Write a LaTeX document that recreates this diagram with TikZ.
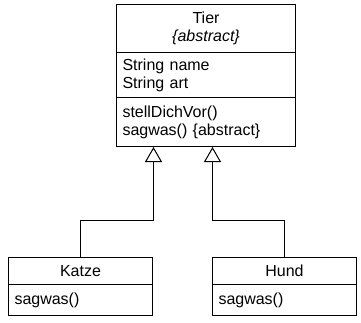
\documentclass[tikz,border=0pt]{standalone}
\usepackage{fontspec}
\setmainfont{Liberation Sans}
\usetikzlibrary{arrows.meta, calc, positioning}

\begin{document}
\begin{tikzpicture}[x=1pt, y=-1pt, line width=1pt,
    fach/.style={draw, rectangle, anchor=north west, inner xsep=6pt, inner ysep=0pt,
      font=\fontsize{16}{18}\selectfont},
    titel/.style={fach, align=center},
    liste/.style={fach, align=left},
    erbt/.style={-{Triangle[open, width=17pt, length=15pt]}}]
  \useasboundingbox (0,0) rectangle (361,322);
  % Oberklasse
  \node[titel, minimum width=179pt, text width=167pt, minimum height=48pt] (tier) at (116,4)
    {Tier\\\textit{\{abstract\}}};
  \node[liste, minimum width=179pt, text width=167pt, minimum height=45pt] (tierAttr) at (116,52)
    {String name\\String art};
  \node[liste, minimum width=179pt, text width=167pt, minimum height=49pt] (tierOps) at (116,97)
    {stellDichVor()\\sagwas() \{abstract\}};
  % Unterklassen
  \node[titel, minimum width=144pt, text width=132pt, minimum height=27pt] (katze) at (8,257) {Katze};
  \node[liste, minimum width=144pt, text width=132pt, minimum height=31pt] (katzeOps) at (8,284) {sagwas()};
  \node[titel, minimum width=144pt, text width=132pt, minimum height=27pt] (hund) at (212,257) {Hund};
  \node[liste, minimum width=144pt, text width=132pt, minimum height=31pt] (hundOps) at (212,284) {sagwas()};
  % Vererbung
  \draw[erbt] (katze.north) -- ++(0,-37) -| ([xshift=-52.5pt]tierOps.south);
  \draw[erbt] (hund.north) -- ++(0,-37) -| ([xshift=6.5pt]tierOps.south);
\end{tikzpicture}
\end{document}
